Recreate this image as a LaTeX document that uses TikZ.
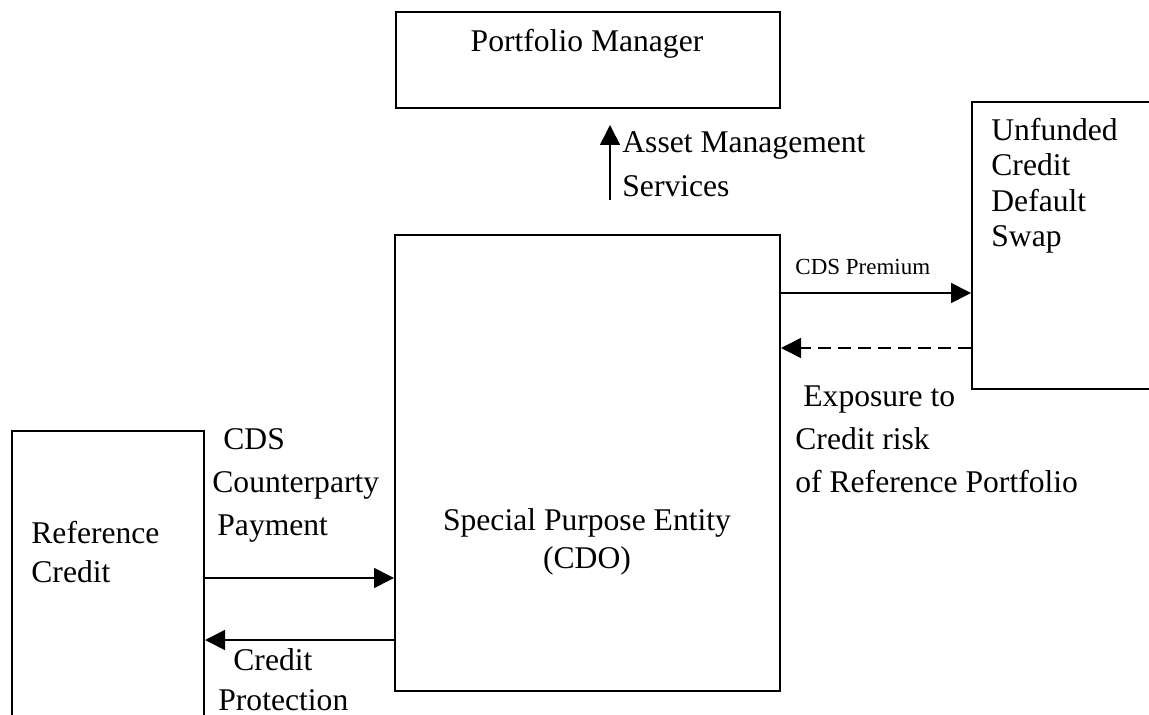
\documentclass[tikz,border=0pt]{standalone}
\usepackage{fontspec}
\setmainfont{Liberation Serif}
\usetikzlibrary{arrows.meta}

\begin{document}
\begin{tikzpicture}[x=0.5pt, y=-0.5pt]
	\tikzset{boite/.style={draw=black, line width=1pt, inner sep=0pt, anchor=north west},
		fleche/.style={-{Triangle[length=10pt, width=10pt]}, line width=0.8pt},
		texte/.style={inner sep=0pt, anchor=base west, align=left, font=\fontsize{15.8}{21.5}\selectfont},
		petit/.style={inner sep=0pt, anchor=base west, font=\fontsize{11.5}{13}\selectfont}};

	\useasboundingbox (0,0) rectangle (1149,715);
	\clip (0,0) rectangle (1149,715);

	% les boites
	\node[boite, minimum width=192pt, minimum height=48pt]    (pm)  at (395,11)  {};
	\node[boite, minimum width=192.5pt, minimum height=228pt] (spe) at (394,234) {};
	\node[boite, minimum width=100pt, minimum height=143.5pt] (cds) at (971,101) {};
	\node[boite, minimum width=96pt, minimum height=160pt]    (ref) at (11,430)  {};

	% les textes (ancre = ligne de base de la derniere ligne)
	\node[texte, anchor=base] (pmtxt)  at (587,52)  {Portfolio Manager};
	\node[texte, anchor=base, align=center, font=\fontsize{15.8}{19}\selectfont] (spetxt) at (587,568) {Special Purpose Entity\\(CDO)};
	\node[texte, font=\fontsize{15.8}{17.8}\selectfont] (cdstxt) at (991,247) {Unfunded\\Credit\\Default\\Swap};
	\node[texte, font=\fontsize{15.8}{19.5}\selectfont] (reftxt) at (31,582) {Reference\\Credit};
	\node[texte, font=\fontsize{15.8}{22}\selectfont] (amtxt) at (622,197) {Asset Management\\Services};
	\node[petit] (premtxt) at (795,275) {CDS Premium};
	\node[texte] (exptxt) at (795,492) {\hspace*{4pt}Exposure to\\Credit risk\\of Reference Portfolio};
	\node[texte] (paytxt) at (212,535) {\hspace*{5.5pt}CDS\\Counterparty\\\hspace*{2.5pt}Payment};
	\node[texte, font=\fontsize{15.8}{20}\selectfont] (prottxt) at (218,710) {\hspace*{7.5pt}Credit\\Protection};

	% les fleches
	\coordinate (am1) at (610,200);
	\coordinate (am2) at (610,125);
	\draw[fleche] (am1) -- (am2);
	\draw[fleche] (spe.east |- 0,293) -- (cds.west |- 0,293);
	\draw[fleche, dash pattern=on 6.5pt off 3.5pt] (cds.west |- 0,348) -- (spe.east |- 0,348);
	\draw[fleche] (ref.east |- 0,578) -- (spe.west |- 0,578);
	\draw[fleche] (spe.west |- 0,640) -- (ref.east |- 0,640);

\end{tikzpicture}
\end{document}
